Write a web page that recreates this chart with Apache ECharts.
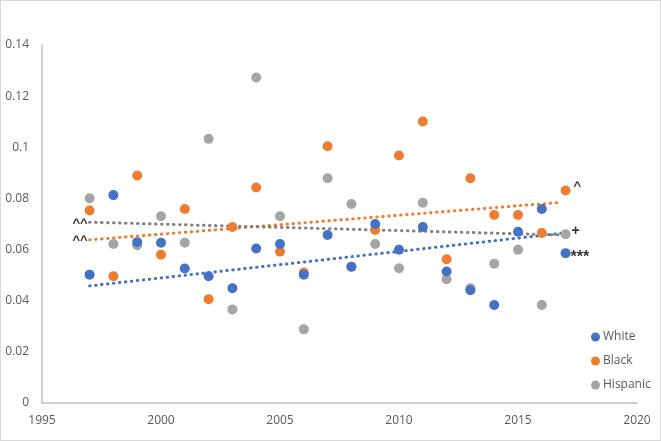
<!DOCTYPE html>
<html>
<head>
<meta charset="utf-8">
<script src="https://cdn.jsdelivr.net/npm/echarts@6/dist/echarts.min.js"></script>
<style>
html,body{margin:0;padding:0;background:#fff;}
#c{width:661px;height:441px;box-sizing:border-box;border:1px solid #d9d9d9;}
</style>
</head>
<body>
<div id="c"></div>
<script>
const years = [1997,1998,1999,2000,2001,2002,2003,2004,2005,2006,2007,2008,2009,2010,2011,2012,2013,2014,2015,2016,2017];
const white = [0.0502,0.0813,0.0629,0.0627,0.0526,0.0496,0.0449,0.0604,0.0622,0.0502,0.0657,0.0533,0.0700,0.0599,0.0688,0.0514,0.0441,0.0383,0.0670,0.0759,0.0586];
const black = [0.0753,0.0496,0.0890,0.0580,0.0759,0.0406,0.0688,0.0843,0.0592,0.0510,0.1004,0.0533,0.0677,0.0968,0.1101,0.0562,0.0879,0.0735,0.0735,0.0665,0.0831];
const hispanic = [0.0801,0.0622,0.0617,0.0730,0.0627,0.1033,0.0366,0.1273,0.0730,0.0288,0.0879,0.0778,0.0622,0.0527,0.0783,0.0484,0.0449,0.0545,0.0599,0.0383,0.0660];
const trendYears = [1997, 2016.85];
const trendWhite = [0.0458, 0.0664];
const trendBlack = [0.0638, 0.0785];
const trendHispanic = [0.0707, 0.0657];
const xTicks = {min: 1995, max: 2020, interval: 5};
const yTicks = {min: 0, max: 0.14, interval: 0.02};
// annotation texts anchored to data points
const annotations = [
  {year: 1997, value: trendHispanic[0], text: '^^', pos: 'left'},
  {year: 1997, value: trendBlack[0], text: '^^', pos: 'left'},
  {year: 2017, value: black[20], text: '^', pos: 'right'},
  {year: 2017, value: trendHispanic[1], text: '+', pos: 'right'},
  {year: 2017, value: white[20], text: '***', pos: 'right'}
];

const pair = (xs, ys) => xs.map((x, i) => [x, ys[i]]);
const C = {white: '#4472C4', black: '#ED7D31', hisp: '#A5A5A5', hispTrend: '#7F7F7F'};
const dotted = (color) => ({color: color, width: 3, type: [0.5, 5.5], cap: 'round'});
const font = '"Open Sans", "Liberation Sans", sans-serif';

const annOffsets = [[2,1],[2,1],[-1,-4],[-3,-4],[-4,4]];
const annSizes = [13, 13, 13, 14, 16];

const chart = echarts.init(document.getElementById('c'));
chart.setOption({
  animation: false,
  textStyle: {fontFamily: font},
  grid: {left: 41, right: 23, top: 44, bottom: 37},
  xAxis: {
    type: 'value', min: xTicks.min, max: xTicks.max, interval: xTicks.interval,
    axisLine: {show: true, lineStyle: {color: '#bfbfbf', width: 1.5}},
    axisTick: {show: false}, splitLine: {show: false},
    axisLabel: {color: '#595959', fontSize: 12, margin: 12, fontFamily: font, formatter: (v) => String(v)}
  },
  yAxis: {
    type: 'value', min: yTicks.min, max: yTicks.max, interval: yTicks.interval,
    axisLine: {show: true, lineStyle: {color: '#bfbfbf', width: 1.5}},
    axisTick: {show: false}, splitLine: {show: false},
    axisLabel: {color: '#595959', fontSize: 12, margin: 13, fontFamily: font}
  },
  legend: {
    orient: 'vertical', left: 585, top: 325, itemGap: 12,
    itemWidth: 9, itemHeight: 9, icon: 'circle',
    data: ['White', 'Black', 'Hispanic'],
    textStyle: {color: '#595959', fontSize: 12, fontFamily: font, padding: [0,0,0,-2]}
  },
  series: [
    {name: 'WhiteTrend', type: 'line', data: pair(trendYears, trendWhite), showSymbol: false, symbol: 'none', lineStyle: dotted(C.white), z: 1, silent: true},
    {name: 'BlackTrend', type: 'line', data: pair(trendYears, trendBlack), showSymbol: false, symbol: 'none', lineStyle: dotted(C.black), z: 1, silent: true},
    {name: 'HispTrend', type: 'line', data: pair(trendYears, trendHispanic), showSymbol: false, symbol: 'none', lineStyle: dotted(C.hispTrend), z: 1, silent: true},
    {name: 'Hispanic', type: 'scatter', data: pair(years, hispanic), symbolSize: 10, itemStyle: {color: C.hisp, opacity: 1}, z: 2},
    {name: 'Black', type: 'scatter', data: pair(years, black), symbolSize: 10, itemStyle: {color: C.black, opacity: 1}, z: 3},
    {name: 'White', type: 'scatter', data: pair(years, white), symbolSize: 10, itemStyle: {color: C.white, opacity: 1}, z: 4},
    {
      name: 'ann', type: 'scatter', symbolSize: 2, itemStyle: {color: 'rgba(0,0,0,0)'}, z: 5, silent: true,
      data: annotations.map((a, i) => ({
        value: [a.year, a.value],
        label: {show: true, formatter: a.text, position: a.pos, distance: a.pos === 'left' ? 3 : 8,
          offset: annOffsets[i], color: '#000', fontSize: annSizes[i], fontWeight: 'bold', fontFamily: '"Liberation Sans", sans-serif'}
      }))
    }
  ]
});
</script>
</body>
</html>
